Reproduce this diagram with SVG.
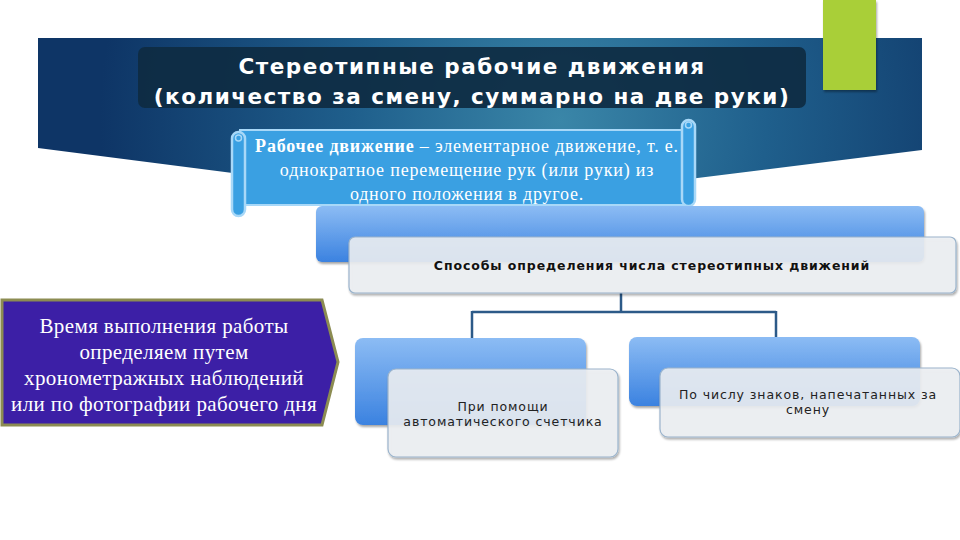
<svg xmlns="http://www.w3.org/2000/svg" width="960" height="540" viewBox="0 0 960 540">
<defs>
<radialGradient id="bg" cx="560" cy="120" r="460" gradientUnits="userSpaceOnUse">
<stop offset="0" stop-color="#3a86a8"/>
<stop offset="0.45" stop-color="#1f5f8c"/>
<stop offset="1" stop-color="#0e3566"/>
</radialGradient>
<linearGradient id="blueBar" x1="0" y1="0" x2="0" y2="1">
<stop offset="0" stop-color="#8cbcf4"/>
<stop offset="1" stop-color="#3b82e0"/>
</linearGradient>
<filter id="sh" x="-10%" y="-10%" width="120%" height="130%">
<feDropShadow dx="1" dy="2" stdDeviation="1.2" flood-color="#000" flood-opacity="0.35"/>
</filter>
</defs>
<style>
.title{font-family:"DejaVu Sans",Verdana,sans-serif;font-weight:bold;font-size:21.5px;fill:#ffffff;letter-spacing:1.5px}
.scroll{font-family:"Liberation Serif","Times New Roman",serif;font-size:18px;fill:#ffffff;letter-spacing:0.8px}
.purple{font-family:"Liberation Serif","Times New Roman",serif;font-size:21px;fill:#ffffff;letter-spacing:0.4px}
.sub{font-family:"DejaVu Sans",Verdana,sans-serif;font-weight:bold;font-size:12.5px;fill:#111111;letter-spacing:0.9px}
.leaf{font-family:"DejaVu Sans",Verdana,sans-serif;font-size:12.5px;fill:#222222;letter-spacing:0.9px}
.bar{fill:url(#blueBar)}
.card{fill:#eef0f4;fill-opacity:0.88;stroke:#9bb4cc;stroke-width:1.2}
.conn{fill:none;stroke:#2c5a88;stroke-width:2.5}
.roll{fill:#3aa0e2;stroke:#a8d8f8;stroke-width:2.5}
</style>
<rect width="960" height="540" fill="#ffffff"/>
<g id="banner">
<path d="M38,38 H922 V150 L480,205 L38,148 Z" fill="url(#bg)"/>
</g>
<g id="accent">
<rect x="823" y="0" width="53" height="90" fill="#a9cf38" filter="url(#sh)"/>
</g>
<g id="title">
<rect x="138" y="47" width="668" height="61" rx="7" fill="#0e2b42" fill-opacity="0.92"/>
<text class="title" x="472" y="74" text-anchor="middle">Стереотипные рабочие движения</text>
<text class="title" x="472" y="104" text-anchor="middle">(количество за смену, суммарно на две руки)</text>
</g>
<g id="definition">
<path d="M240,130 H690 V205 H240 Z" fill="#3aa0e2" stroke="#a8d8f8" stroke-width="2"/>
<rect class="roll" x="682" y="120" width="13" height="86" rx="6.5"/>
<circle cx="688.5" cy="125" r="3" fill="none" stroke="#a8d8f8" stroke-width="1.5"/>
<rect class="roll" x="232" y="132" width="13" height="84" rx="6.5"/>
<circle cx="238.5" cy="138" r="3" fill="none" stroke="#a8d8f8" stroke-width="1.5"/>
<text class="scroll" x="467" y="152" text-anchor="middle"><tspan font-weight="bold">Рабочее движение</tspan> – элементарное движение, т. е.</text>
<text class="scroll" x="467" y="176" text-anchor="middle">однократное перемещение рук (или руки) из</text>
<text class="scroll" x="467" y="200" text-anchor="middle">одного положения в другое.</text>
</g>
<g id="connectors">
<path class="conn" d="M621,293 V312 M472,312 H776 M472,311 V339 M776,311 V337"/>
</g>
<g id="methods">
<rect class="bar" x="316" y="206" width="608" height="56" rx="6" filter="url(#sh)"/>
<rect class="card" x="349" y="237" width="607" height="56" rx="6" filter="url(#sh)"/>
<text class="sub" x="652" y="270" text-anchor="middle">Способы определения числа стереотипных движений</text>
</g>
<g id="counter">
<rect class="bar" x="355" y="338" width="231" height="87" rx="8" filter="url(#sh)"/>
<rect class="card" x="388" y="369" width="230" height="88" rx="8" filter="url(#sh)"/>
<text class="leaf" x="503" y="411" text-anchor="middle">При помощи</text>
<text class="leaf" x="503" y="426" text-anchor="middle">автоматического счетчика</text>
</g>
<g id="signs">
<rect class="bar" x="629" y="337" width="291" height="69" rx="8" filter="url(#sh)"/>
<rect class="card" x="660" y="368" width="300" height="69" rx="8" filter="url(#sh)"/>
<text class="leaf" x="808" y="399" text-anchor="middle">По числу знаков, напечатанных за</text>
<text class="leaf" x="808" y="414" text-anchor="middle">смену</text>
</g>
<g id="time">
<path d="M2,300 H322 L338,362 L322,425 H2 Z" fill="#3c1fa6" stroke="#8c8c52" stroke-width="3"/>
<text class="purple" x="164" y="333" text-anchor="middle">Время выполнения работы</text>
<text class="purple" x="164" y="359" text-anchor="middle">определяем путем</text>
<text class="purple" x="164" y="385" text-anchor="middle">хронометражных наблюдений</text>
<text class="purple" x="164" y="411" text-anchor="middle">или по фотографии рабочего дня</text>
</g>
</svg>
